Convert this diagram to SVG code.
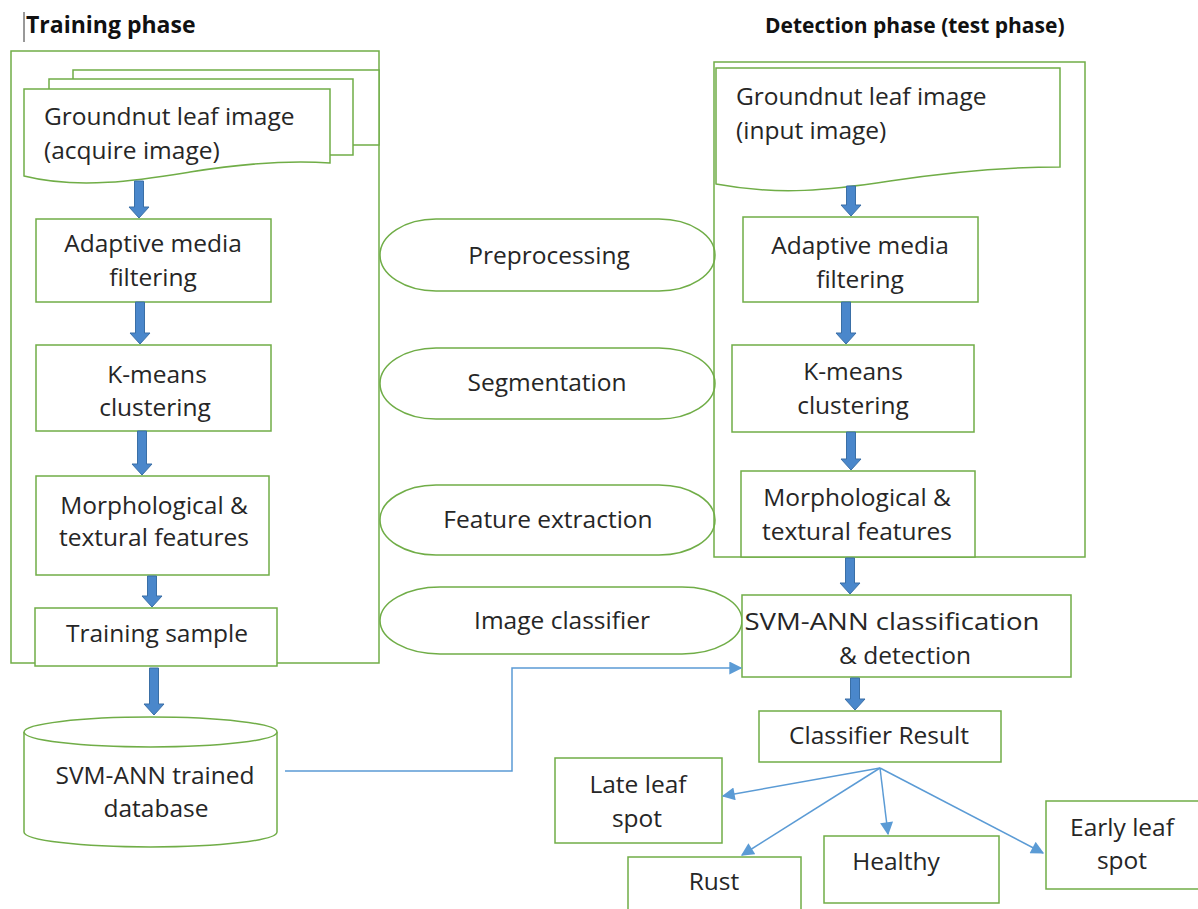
<svg xmlns="http://www.w3.org/2000/svg" width="1198" height="909" viewBox="0 0 1198 909">
<defs>
<style>
.s{fill:#fff;stroke:#70ad47;stroke-width:1.5}
.n{fill:none;stroke:#70ad47;stroke-width:1.5}
.t{font-family:"Open Sans","Liberation Sans",sans-serif;font-size:24.5px;fill:#262626;text-anchor:middle}
.tl{font-family:"Open Sans","Liberation Sans",sans-serif;font-size:24.5px;fill:#262626}
.h{font-family:"Open Sans","Liberation Sans",sans-serif;font-weight:bold;fill:#111}
.ba{fill:#4a87cb;stroke:#3a6fa6;stroke-width:1}
.ln{fill:none;stroke:#5b9bd5;stroke-width:1.5}
</style>
<marker id="ah" viewBox="0 0 10 10" refX="9" refY="5" markerWidth="14" markerHeight="13" markerUnits="userSpaceOnUse" orient="auto">
<path d="M0,0 L10,5 L0,10 z" fill="#5b9bd5"/>
</marker>
</defs>
<rect width="1198" height="909" fill="#fff"/>

<g id="titles">
<line x1="24" y1="12" x2="24" y2="42" stroke="#333" stroke-width="1"/>
<text class="h" x="26" y="33" font-size="23">Training phase</text>
<text class="h" x="765" y="33" font-size="21">Detection phase (test phase)</text>
</g>

<g id="training-frame">
<rect class="n" x="11" y="51" width="368" height="612"/>
</g>

<g id="training-input">
<path class="s" d="M73,79 V70 H379 V145 H353"/>
<path class="s" d="M49,89 V79 H353 V155 H330"/>
<path class="s" d="M24,89 H330 V163 C 290,160 240,164 190,172 S 80,190 24,176 Z"/>
<text class="tl" x="44" y="125">Groundnut leaf image</text>
<text class="tl" x="44" y="159">(acquire image)</text>
</g>

<g id="train-filter">
<rect class="s" x="36" y="219" width="235" height="83"/>
<text class="t" x="153" y="252">Adaptive media</text>
<text class="t" x="153" y="286">filtering</text>
</g>
<g id="train-kmeans">
<rect class="s" x="36" y="345" width="235" height="86"/>
<text class="t" x="157" y="383">K-means</text>
<text class="t" x="155" y="416">clustering</text>
</g>
<g id="train-features">
<rect class="s" x="36" y="476" width="233" height="99"/>
<text class="t" x="154" y="514">Morphological &amp;</text>
<text class="t" x="154" y="546">textural features</text>
</g>
<g id="train-sample">
<rect class="s" x="35" y="608" width="242" height="58"/>
<text class="t" x="157" y="642">Training sample</text>
</g>
<g id="database">
<path class="s" d="M24,732 V832 A126.5,15 0 0 0 277,832 V732"/>
<ellipse class="s" cx="150.5" cy="732" rx="126.5" ry="15"/>
<text class="t" x="155" y="784">SVM-ANN trained</text>
<text class="t" x="156" y="817">database</text>
</g>

<g id="phase-preprocessing">
<rect class="s" x="380" y="219" width="335" height="72" rx="56" ry="36"/>
<text class="t" x="549" y="264">Preprocessing</text>
</g>
<g id="phase-segmentation">
<rect class="s" x="380" y="348" width="335" height="71" rx="56" ry="35.5"/>
<text class="t" x="547" y="391">Segmentation</text>
</g>
<g id="phase-feature">
<rect class="s" x="380" y="485" width="335" height="70" rx="56" ry="35"/>
<text class="t" x="548" y="528">Feature extraction</text>
</g>
<g id="phase-classifier">
<rect class="s" x="380" y="587" width="362" height="67" rx="60" ry="33.5"/>
<text class="t" x="562" y="629">Image classifier</text>
</g>

<g id="detection-frame">
<rect class="n" x="714" y="62" width="371" height="495"/>
</g>
<g id="detect-input">
<path class="s" d="M716,68 H1060 V167 C 1010,167 950,172 890,181 S 780,196 716,184 Z"/>
<text class="tl" x="736" y="105">Groundnut leaf image</text>
<text class="tl" x="736" y="139">(input image)</text>
</g>
<g id="detect-filter">
<rect class="s" x="743" y="217" width="235" height="85"/>
<text class="t" x="860" y="254">Adaptive media</text>
<text class="t" x="860" y="288">filtering</text>
</g>
<g id="detect-kmeans">
<rect class="s" x="732" y="345" width="242" height="87"/>
<text class="t" x="853" y="380">K-means</text>
<text class="t" x="853" y="414">clustering</text>
</g>
<g id="detect-features">
<rect class="s" x="741" y="471" width="234" height="86"/>
<text class="t" x="857" y="506">Morphological &amp;</text>
<text class="t" x="857" y="540">textural features</text>
</g>
<g id="svm-ann">
<rect class="s" x="742" y="595" width="329" height="82"/>
<text class="t" x="892" y="630" textLength="295" lengthAdjust="spacingAndGlyphs">SVM-ANN classification</text>
<text class="t" x="905" y="664">&amp; detection</text>
</g>
<g id="classifier-result">
<rect class="s" x="759" y="711" width="242" height="51"/>
<text class="t" x="879" y="744">Classifier Result</text>
</g>
<g id="late-leaf-spot">
<rect class="s" x="555" y="758" width="167" height="85"/>
<text class="t" x="638" y="793">Late leaf</text>
<text class="t" x="637" y="827">spot</text>
</g>
<g id="rust">
<rect class="s" x="628" y="857" width="173" height="60"/>
<text class="t" x="714" y="890">Rust</text>
</g>
<g id="healthy">
<rect class="s" x="824" y="836" width="175" height="67"/>
<text class="t" x="896" y="870">Healthy</text>
</g>
<g id="early-leaf-spot">
<rect class="s" x="1046" y="801" width="160" height="88"/>
<text class="t" x="1122" y="836">Early leaf</text>
<text class="t" x="1122" y="869">spot</text>
</g>

<g id="connectors">
<polygon class="ba" points="134.5,181 143.5,181 143.5,207 149,207 139,218 129,207 134.5,207"/>
<polygon class="ba" points="135.5,302 144.5,302 144.5,333 150,333 140,344 130,333 135.5,333"/>
<polygon class="ba" points="137.5,431 146.5,431 146.5,464 152,464 142,475 132,464 137.5,464"/>
<polygon class="ba" points="147.5,576 156.5,576 156.5,596 162,596 152,607 142,596 147.5,596"/>
<polygon class="ba" points="149.5,668 158.5,668 158.5,704 164,704 154,715 144,704 149.5,704"/>
<polygon class="ba" points="846.5,186 855.5,186 855.5,205 861,205 851,216 841,205 846.5,205"/>
<polygon class="ba" points="841.5,302 850.5,302 850.5,333 856,333 846,344 836,333 841.5,333"/>
<polygon class="ba" points="846.5,432 855.5,432 855.5,459 861,459 851,470 841,459 846.5,459"/>
<polygon class="ba" points="845.5,558 854.5,558 854.5,583 860,583 850,594 840,583 845.5,583"/>
<polygon class="ba" points="850.5,678 859.5,678 859.5,699 865,699 855,710 845,699 850.5,699"/>

<path class="ln" d="M285,771 H512 V668 H741" marker-end="url(#ah)"/>
<path class="ln" d="M880,768 L723,796" marker-end="url(#ah)"/>
<path class="ln" d="M880,768 L742,855" marker-end="url(#ah)"/>
<path class="ln" d="M880,768 L888,834" marker-end="url(#ah)"/>
<path class="ln" d="M880,768 L1043,853" marker-end="url(#ah)"/>
</g>
</svg>
